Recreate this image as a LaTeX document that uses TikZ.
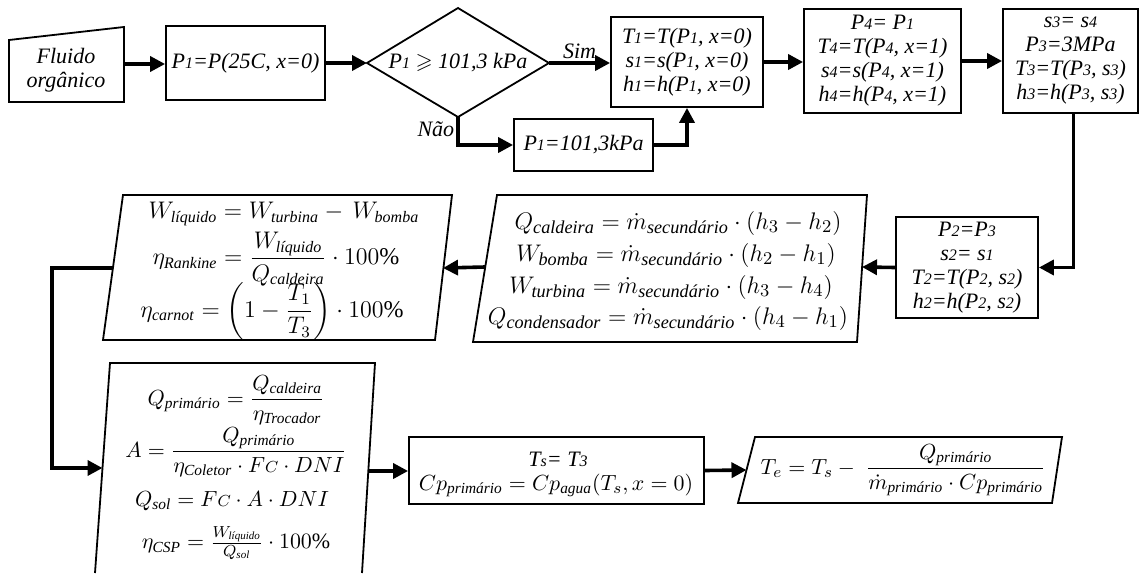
\documentclass[tikz,border=0pt]{standalone}
\usepackage{amsmath,amssymb}
\usepackage{fontspec}
\setmainfont{Liberation Serif}
\usetikzlibrary{arrows.meta}
\newcommand\dg[1]{{\fontsize{8}{8}\selectfont #1}}
\newcommand\sub[1]{\text{\itshape #1}}
\tikzset{
 box/.style={draw, line width=0.9pt, inner sep=1pt, align=center, font=\fontsize{11}{12}\selectfont\itshape},
 flow/.style={line width=1.8pt, -{Triangle[length=7.5pt,width=7.5pt]}},
 shp/.style={draw, line width=0.9pt, line join=miter},
 eq/.style={inner sep=0pt, font=\fontsize{12}{14}\selectfont},
 eqb/.style={inner sep=0pt, font=\fontsize{13}{15}\selectfont},
 eqs/.style={inner sep=0pt, font=\fontsize{11}{13}\selectfont},
 txt/.style={align=center, font=\fontsize{11}{12}\selectfont\itshape, inner sep=0pt},
 lbl/.style={font=\fontsize{11}{12}\selectfont\itshape, inner sep=1pt}
}
\begin{document}
\begin{tikzpicture}[x=0.5pt,y=-0.5pt]
\useasboundingbox (0,0) rectangle (1140,573);

% Fluido organico (manual input)
\coordinate (f1) at (9,40); \coordinate (f2) at (124,27);
\coordinate (f3) at (124,102); \coordinate (f4) at (9,102);
\draw[shp] (f1)--(f2)--(f3)--(f4)--cycle;
\node[txt] (fluido) at (66,70) {Fluido\\orgânico};
\coordinate (fr) at (124,64);

\node[box, minimum width=79.5pt, minimum height=37pt] (p1box) at (245.5,63) {P\dg{1}=P(25C, x=0)};

% decision diamond
\coordinate (dl) at (367,63); \coordinate (dt) at (458,8);
\coordinate (dr) at (549,63); \coordinate (db) at (458,117);
\draw[shp] (dl)--(dt)--(dr)--(db)--cycle;
\node[txt] (dec) at (458,63) {P\dg{1} $\geqslant$ 101,3 kPa};

\node[box, minimum width=76pt, minimum height=45pt] (t1box) at (687,62)
 {T\dg{1}=T(P\dg{1}, x=0)\\ s\dg{1}=s(P\dg{1}, x=0)\\ h\dg{1}=h(P\dg{1}, x=0)};
\node[box, minimum width=69.5pt, minimum height=26pt] (p101) at (583.5,145) {P\dg{1}=101,3kPa};
\node[box, minimum width=78.5pt, minimum height=52pt] (p4box) at (882.5,61)
 {P\dg{4}= P\dg{1}\\ T\dg{4}=T(P\dg{4}, x=1)\\ s\dg{4}=s(P\dg{4}, x=1)\\ h\dg{4}=h(P\dg{4}, x=1)};
\node[box, minimum width=67.5pt, minimum height=52pt] (s3box) at (1070.5,61)
 {s\dg{3}= s\dg{4}\\ P\dg{3}=3MPa\\ T\dg{3}=T(P\dg{3}, s\dg{3})\\ h\dg{3}=h(P\dg{3}, s\dg{3})};
\node[box, minimum width=71pt, minimum height=50.5pt] (p2box) at (967,267.5)
 {P\dg{2}=P\dg{3}\\ s\dg{2}= s\dg{1}\\ T\dg{2}=T(P\dg{2}, s\dg{2})\\ h\dg{2}=h(P\dg{2}, s\dg{2})};

% Q box
\coordinate (q1) at (497,195); \coordinate (q2) at (867,195);
\coordinate (q3) at (857,342); \coordinate (q4) at (473,342);
\draw[shp] (q1)--(q2)--(q3)--(q4)--cycle;
\node[eqb, anchor=base] (qa) at (678,229) {$Q_{\sub{caldeira}} = \dot m_{\sub{secundário}}\cdot(h_3-h_2)$};
\node[eqb, anchor=base] (qb) at (676,261) {$W_{\sub{bomba}} = \dot m_{\sub{secundário}}\cdot(h_2-h_1)$};
\node[eqb, anchor=base] (qc) at (671,293) {$W_{\sub{turbina}} = \dot m_{\sub{secundário}}\cdot(h_3-h_4)$};
\node[eqb, anchor=base] (qd) at (668,324) {$Q_{\sub{condensador}} = \dot m_{\sub{secundário}}\cdot(h_4-h_1)$};
\coordinate (qr) at (862,267); \coordinate (ql) at (485,267);

% W box
\coordinate (w1) at (123,195); \coordinate (w2) at (452,195);
\coordinate (w3) at (435,340); \coordinate (w4) at (103,340);
\draw[shp] (w1)--(w2)--(w3)--(w4)--cycle;
\node[eq] (wa) at (284,214) {$W_{\sub{líquido}} = W_{\sub{turbina}} -\, W_{\sub{bomba}}$};
\node[eq] (wb) at (276,259) {$\eta_{\sub{Rankine}} = \dfrac{W_{\sub{líquido}}}{Q_{\sub{caldeira}}}\cdot 100\%$};
\node[eq] (wc) at (272,311) {$\eta_{\sub{carnot}} = \left(1-\dfrac{T_1}{T_3}\right)\cdot 100\%$};
\coordinate (wr) at (443,268); \coordinate (wl) at (113,268);
\coordinate (bend1) at (52,268); \coordinate (bend2) at (52,468);

% Q primario box (cut at bottom)
\coordinate (r1) at (95,573); \coordinate (r2) at (110,363);
\coordinate (r3) at (375,363); \coordinate (r4) at (362,573);
\draw[shp] (r1)--(r2)--(r3)--(r4);
\node[eqs] (pa) at (236,400) {$Q_{\sub{primário}} = \dfrac{Q_{\sub{caldeira}}}{\eta_{\sub{Trocador}}}$};
\node[eqs] (pb) at (236,452) {$A = \dfrac{Q_{\sub{primário}}}{\eta_{\sub{Coletor}}\cdot F{\scriptstyle C}\cdot DNI}$};
\node[eqs] (pc) at (232,501) {$Q_{\sub{sol}} = F{\scriptstyle C}\cdot A\cdot DNI$};
\node[eqs] (pd) at (236,543) {$\eta_{\sub{CSP}} = \frac{W_{\sub{líquido}}}{Q_{\sub{sol}}}\cdot 100\%$};
\coordinate (pl) at (102.5,468); \coordinate (pr) at (368,471);

\node[draw, line width=0.9pt, minimum width=147.5pt, minimum height=33.5pt] (tsbox) at (556.5,470.5) {};
\node[txt, anchor=base] (tsa) at (558,466) {T\dg{s}= T\dg{3}};
\node[eqs, anchor=base] (tsb) at (556,490) {$Cp_{\sub{primário}} = Cp_{\sub{agua}}(T_s, x=0)$};

% Te box
\coordinate (e1) at (738,503); \coordinate (e2) at (755,437);
\coordinate (e3) at (1062,437); \coordinate (e4) at (1052,503);
\draw[shp] (e1)--(e2)--(e3)--(e4)--cycle;
\node[eqs] (teq) at (903,470) {$T_e = T_s -\; \dfrac{Q_{\sub{primário}}}{\dot m_{\sub{primário}}\cdot Cp_{\sub{primário}}}$};
\coordinate (el) at (746.5,470);

% connectors
\draw[flow] (fr) -- (p1box.west |- fr);
\draw[flow] (p1box.east) -- (dl);
\draw[flow] (dr) -- node[lbl, above] (sim) {Sim} (t1box.west |- dr);
\draw[flow] (db) -- node[lbl, left, pos=0.45] (nao) {Não} (db |- p101.west) -- (p101.west);
\draw[flow] (p101.east) -- (t1box.south |- p101.east) -- (t1box.south);
\draw[flow] (t1box.east) -- (p4box.west |- t1box.east);
\draw[flow] (p4box.east) -- (s3box.west);
\draw[flow] ([xshift=1.5pt]s3box.south) -- ([xshift=1.5pt]s3box.south |- p2box.east) -- (p2box.east);
\draw[flow] (p2box.west) -- (qr);
\draw[flow] (ql) -- (wr);
\draw[flow] (wl) -- (bend1) -- (bend2) -- (pl);
\draw[flow] (pr) -- (tsbox.west |- pr);
\draw[flow] (tsbox.east) -- (el);
\end{tikzpicture}
\end{document}
